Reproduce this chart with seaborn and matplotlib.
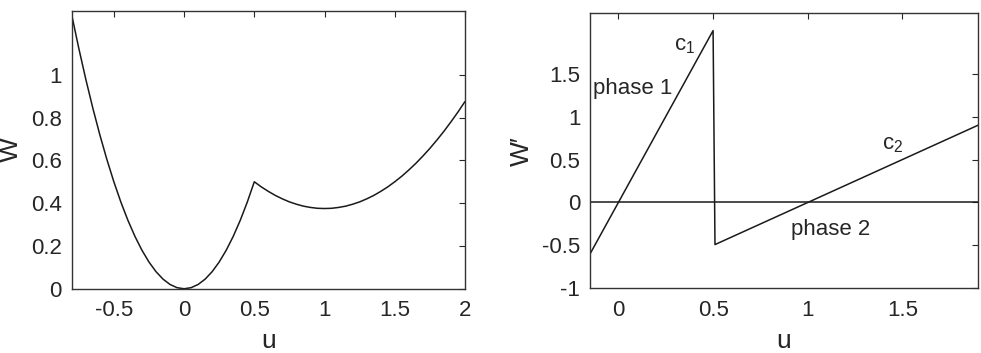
import matplotlib
matplotlib.use("Agg")
import matplotlib.pyplot as plt
import seaborn as sns
import pandas as pd

# Left panel: W(u)
u_left = [-0.80, -0.75, -0.70, -0.65, -0.60, -0.55, -0.50, -0.45, -0.40, -0.35,
          -0.30, -0.25, -0.20, -0.15, -0.10, -0.05, 0.00, 0.05, 0.10, 0.15,
          0.20, 0.25, 0.30, 0.35, 0.40, 0.45, 0.50, 0.55, 0.60, 0.65,
          0.70, 0.75, 0.80, 0.85, 0.90, 0.95, 1.00, 1.05, 1.10, 1.15,
          1.20, 1.25, 1.30, 1.35, 1.40, 1.45, 1.50, 1.55, 1.60, 1.65,
          1.70, 1.75, 1.80, 1.85, 1.90, 1.95, 2.00]
w_left = [1.28, 1.125, 0.98, 0.845, 0.72, 0.605, 0.50, 0.405, 0.32, 0.245,
          0.18, 0.125, 0.08, 0.045, 0.02, 0.005, 0.0, 0.005, 0.02, 0.045,
          0.08, 0.125, 0.18, 0.245, 0.32, 0.405, 0.50, 0.476, 0.455, 0.436,
          0.42, 0.406, 0.395, 0.386, 0.38, 0.376, 0.375, 0.376, 0.38, 0.386,
          0.395, 0.406, 0.42, 0.436, 0.455, 0.476, 0.50, 0.526, 0.555, 0.586,
          0.62, 0.656, 0.695, 0.736, 0.78, 0.826, 0.875]

# Right panel: W'(u)
u_right = [-0.15, 0.50, 0.51, 1.90]
wp_right = [-0.60, 2.00, -0.49, 0.90]

left_xticks = [-0.5, 0, 0.5, 1, 1.5, 2]
left_xticklabels = ["-0.5", "0", "0.5", "1", "1.5", "2"]
left_yticks = [0, 0.2, 0.4, 0.6, 0.8, 1]
left_yticklabels = ["0", "0.2", "0.4", "0.6", "0.8", "1"]
right_xticks = [0, 0.5, 1, 1.5]
right_xticklabels = ["0", "0.5", "1", "1.5"]
right_yticks = [-1, -0.5, 0, 0.5, 1, 1.5]
right_yticklabels = ["-1", "-0.5", "0", "0.5", "1", "1.5"]

sns.set_theme(style="white")
plt.rcParams['font.family'] = ['Liberation Sans', 'DejaVu Sans']
plt.rcParams['mathtext.default'] = 'regular'
TXT = '#262626'
LC = '#1a1a1a'
plt.rcParams['text.color'] = TXT
plt.rcParams['axes.labelcolor'] = TXT
plt.rcParams['xtick.color'] = TXT
plt.rcParams['ytick.color'] = TXT

fig = plt.figure(figsize=(9.81, 3.53), dpi=100)
ax1 = fig.add_axes([0.0731, 0.182, 0.4009, 0.788])
ax2 = fig.add_axes([0.6014, 0.183, 0.3958, 0.779])

df_l = pd.DataFrame({"u": u_left, "W": w_left})
df_r = pd.DataFrame({"u": u_right, "Wp": wp_right})

sns.lineplot(data=df_l, x="u", y="W", ax=ax1, color=LC, linewidth=1.1, sort=False, estimator=None)
sns.lineplot(data=df_r, x="u", y="Wp", ax=ax2, color=LC, linewidth=1.1, sort=False, estimator=None)
ax2.axhline(0, color=LC, linewidth=1.1)

for ax in (ax1, ax2):
    for s in ax.spines.values():
        s.set_color('#333333')
        s.set_linewidth(1.0)
    ax.tick_params(direction='in', length=4, width=0.8, top=True, right=True,
                   labelsize=16, colors=TXT)
    ax.tick_params(axis='y', pad=7)
    ax.tick_params(axis='x', pad=8)

ax1.set_xlim(-0.8, 2)
ax1.set_ylim(0, 1.3)
ax1.set_xticks(left_xticks)
ax1.set_xticklabels(left_xticklabels)
ax1.set_yticks(left_yticks)
ax1.set_yticklabels(left_yticklabels)
ax1.set_xlabel("u", fontsize=19, labelpad=6)
ax1.set_ylabel("W", fontsize=19, labelpad=6)

ax2.set_xlim(-0.15, 1.9)
ax2.set_ylim(-1, 2.2)
ax2.set_xticks(right_xticks)
ax2.set_xticklabels(right_xticklabels)
ax2.set_yticks(right_yticks)
ax2.set_yticklabels(right_yticklabels)
ax2.set_xlabel("u", fontsize=19, labelpad=6)
ax2.set_ylabel("W\u2032", fontsize=19, labelpad=6)

ax2.text(0.35, 1.83, "c$_1$", fontsize=16, ha='center', va='center')
ax2.text(-0.135, 1.33, "phase 1", fontsize=16, ha='left', va='center')
ax2.text(1.45, 0.67, "c$_2$", fontsize=16, ha='center', va='center')
ax2.text(1.12, -0.32, "phase 2", fontsize=16, ha='center', va='center')

fig.savefig("out.png", dpi=100)
